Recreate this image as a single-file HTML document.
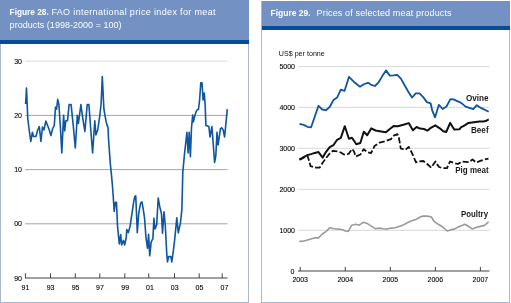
<!DOCTYPE html>
<html><head><meta charset="utf-8"><style>
html,body{margin:0;padding:0;background:#fff;width:511px;height:303px;overflow:hidden}
svg{display:block;font-family:"Liberation Sans", sans-serif;will-change:transform}
</style></head><body>
<svg width="511" height="303" viewBox="0 0 511 303" style="white-space:pre">
<rect x="0" y="0" width="249" height="303" fill="#fff"/>
<rect x="0.5" y="-1" width="248" height="303.5" fill="none" stroke="#a9b8cc" stroke-width="1"/>
<rect x="0" y="0" width="249" height="40" fill="#7391c2"/>
<rect x="0" y="40" width="249" height="4" fill="#0a4b95"/>
<rect x="261.5" y="1.5" width="248" height="301" fill="none" stroke="#a9b8cc" stroke-width="1"/>
<rect x="262" y="1" width="248" height="25" fill="#7391c2"/>
<rect x="262" y="26" width="248" height="4" fill="#0a4b95"/>
<line x1="25" y1="61.2" x2="227.5" y2="61.2" stroke="#dadada" stroke-width="1"/>
<text x="22" y="63.7" text-anchor="end" font-size="7" fill="#000" stroke="#000" stroke-width="0.1">30</text>
<line x1="25" y1="115.4" x2="227.5" y2="115.4" stroke="#a6a6a6" stroke-width="1"/>
<text x="22" y="117.9" text-anchor="end" font-size="7" fill="#000" stroke="#000" stroke-width="0.1">20</text>
<line x1="25" y1="169.6" x2="227.5" y2="169.6" stroke="#a6a6a6" stroke-width="1"/>
<text x="22" y="172.1" text-anchor="end" font-size="7" fill="#000" stroke="#000" stroke-width="0.1">10</text>
<line x1="25" y1="223.8" x2="227.5" y2="223.8" stroke="#a6a6a6" stroke-width="1"/>
<text x="22" y="226.3" text-anchor="end" font-size="7" fill="#000" stroke="#000" stroke-width="0.1">00</text>
<line x1="25" y1="278" x2="227.5" y2="278" stroke="#808080" stroke-width="1.3"/>
<text x="22" y="280.7" text-anchor="end" font-size="7" fill="#000" stroke="#000" stroke-width="0.1">90</text>
<line x1="25.4" y1="273.3" x2="25.4" y2="278" stroke="#333" stroke-width="0.9"/>
<text x="25.4" y="290" text-anchor="middle" font-size="7" fill="#000" stroke="#000" stroke-width="0.1">91</text>
<line x1="50.5" y1="273.3" x2="50.5" y2="278" stroke="#333" stroke-width="0.9"/>
<text x="50.6" y="290" text-anchor="middle" font-size="7" fill="#000" stroke="#000" stroke-width="0.1">93</text>
<line x1="75.3" y1="273.3" x2="75.3" y2="278" stroke="#333" stroke-width="0.9"/>
<text x="75.6" y="290" text-anchor="middle" font-size="7" fill="#000" stroke="#000" stroke-width="0.1">95</text>
<line x1="99.8" y1="273.3" x2="99.8" y2="278" stroke="#333" stroke-width="0.9"/>
<text x="100.0" y="290" text-anchor="middle" font-size="7" fill="#000" stroke="#000" stroke-width="0.1">97</text>
<line x1="124.8" y1="273.3" x2="124.8" y2="278" stroke="#333" stroke-width="0.9"/>
<text x="125.2" y="290" text-anchor="middle" font-size="7" fill="#000" stroke="#000" stroke-width="0.1">99</text>
<line x1="148.7" y1="273.3" x2="148.7" y2="278" stroke="#333" stroke-width="0.9"/>
<text x="149.9" y="290" text-anchor="middle" font-size="7" fill="#000" stroke="#000" stroke-width="0.1">01</text>
<line x1="174.5" y1="273.3" x2="174.5" y2="278" stroke="#333" stroke-width="0.9"/>
<text x="174.7" y="290" text-anchor="middle" font-size="7" fill="#000" stroke="#000" stroke-width="0.1">03</text>
<line x1="199.2" y1="273.3" x2="199.2" y2="278" stroke="#333" stroke-width="0.9"/>
<text x="199.5" y="290" text-anchor="middle" font-size="7" fill="#000" stroke="#000" stroke-width="0.1">05</text>
<line x1="222.2" y1="273.3" x2="222.2" y2="278" stroke="#333" stroke-width="0.9"/>
<text x="224.5" y="290" text-anchor="middle" font-size="7" fill="#000" stroke="#000" stroke-width="0.1">07</text>
<polyline points="25.6,104 26.5,88 27.8,119 29.2,130 30.8,141.4 32.4,132.3 33.5,136.5 35.9,136.5 37.7,130 39.3,126.6 40.9,141.4 42.5,127 43.9,130 45.9,121 47.6,125.5 49.3,130 50.9,135.6 52.7,128.5 54.3,125.4 55.5,107 56.6,109.2 57.7,99.3 58.9,104.7 60.4,127.2 61.8,153 63.6,115.4 64.7,131 65.8,120.8 67.5,120.8 69.1,104.6 71.1,104.6 73,123 75.3,148 77.3,115.2 78.4,123.5 80.9,104.6 82.5,116.5 84.9,131.5 87.2,104.6 88.9,104.6 90.9,131.5 92.6,153 94.8,120.8 95.9,135 97.7,130 99.5,118 101.1,104 102.3,76.6 103.9,109 104.9,115 106.2,122 107.3,126 108,127 108.6,140 110.3,163.6 111.2,172.2 112.4,185.1 113.2,196 114.2,211.5 115.4,202.3 116.5,202.3 117.5,226 119.3,243.9 120.7,234.6 121.6,245 123.5,240.4 124.6,245 126.2,238 126.8,229.6 128.4,232.6 130.2,225.6 132.8,207.8 133.7,201.9 134.7,196.9 135.7,195.9 136.1,203.9 137.3,232.6 138.7,213.8 139.7,207.8 140.7,202.9 142,201.9 143.2,208.8 144.6,218.7 146,237.6 147.5,248.3 148.6,234.3 149.7,255.8 151.2,241.8 152.9,238.6 153.9,218.2 155,229 156.7,224.7 158.2,198 159.7,206.4 161.5,214 162.5,233.3 164,211.8 165.3,225.8 166.8,254.7 167.5,261.9 168.6,256.5 170.8,256.5 171.8,261.9 173.3,251.1 174.6,240.4 176.8,217.9 178.3,232.9 180.4,223.2 181.9,209.3 182.8,172 184.6,153 186.9,132.3 188.1,153 189.2,132.3 190.4,156.6 191.5,127.7 192.7,115 193.4,121.9 195,115 196.6,110.4 198.5,109.2 199.6,100 200.8,82.7 202,82.7 203.1,100 204.3,93.1 205.2,106 205.9,125.4 208.9,126.6 210,137 211.9,126.6 212.8,138.1 214.6,162.4 215.8,156 217,132.3 218.1,145 220.4,128.9 221.6,127.7 223.2,130 224.6,137 227.3,109.2" fill="none" stroke="#0e55a2" stroke-width="1.6" stroke-linejoin="round"/>
<line x1="298" y1="66.6" x2="489.5" y2="66.6" stroke="#d4d4d4" stroke-width="0.9"/>
<text x="295" y="69.3" text-anchor="end" font-size="7" fill="#000" stroke="#000" stroke-width="0.1">5000</text>
<line x1="298" y1="107.4" x2="489.5" y2="107.4" stroke="#d4d4d4" stroke-width="0.9"/>
<text x="295" y="110.10000000000001" text-anchor="end" font-size="7" fill="#000" stroke="#000" stroke-width="0.1">4000</text>
<line x1="298" y1="148.3" x2="489.5" y2="148.3" stroke="#d4d4d4" stroke-width="0.9"/>
<text x="295" y="151.0" text-anchor="end" font-size="7" fill="#000" stroke="#000" stroke-width="0.1">3000</text>
<line x1="298" y1="189.3" x2="489.5" y2="189.3" stroke="#d4d4d4" stroke-width="0.9"/>
<text x="295" y="192.0" text-anchor="end" font-size="7" fill="#000" stroke="#000" stroke-width="0.1">2000</text>
<line x1="298" y1="230.3" x2="489.5" y2="230.3" stroke="#d4d4d4" stroke-width="0.9"/>
<text x="295" y="233.0" text-anchor="end" font-size="7" fill="#000" stroke="#000" stroke-width="0.1">1000</text>
<line x1="298" y1="271" x2="489.5" y2="271" stroke="#808080" stroke-width="1.3"/>
<text x="294.5" y="274.2" text-anchor="end" font-size="7" fill="#000" stroke="#000" stroke-width="0.1">0</text>
<line x1="300.2" y1="266.9" x2="300.2" y2="271" stroke="#333" stroke-width="0.9"/>
<text x="300.2" y="282" text-anchor="middle" font-size="7" fill="#000" stroke="#000" stroke-width="0.1">2003</text>
<line x1="345.25" y1="266.9" x2="345.25" y2="271" stroke="#333" stroke-width="0.9"/>
<text x="345.25" y="282" text-anchor="middle" font-size="7" fill="#000" stroke="#000" stroke-width="0.1">2004</text>
<line x1="390.29999999999995" y1="266.9" x2="390.29999999999995" y2="271" stroke="#333" stroke-width="0.9"/>
<text x="390.29999999999995" y="282" text-anchor="middle" font-size="7" fill="#000" stroke="#000" stroke-width="0.1">2005</text>
<line x1="435.34999999999997" y1="266.9" x2="435.34999999999997" y2="271" stroke="#333" stroke-width="0.9"/>
<text x="435.34999999999997" y="282" text-anchor="middle" font-size="7" fill="#000" stroke="#000" stroke-width="0.1">2006</text>
<line x1="480.4" y1="266.9" x2="480.4" y2="271" stroke="#333" stroke-width="0.9"/>
<text x="480.4" y="282" text-anchor="middle" font-size="7" fill="#000" stroke="#000" stroke-width="0.1">2007</text>
<text x="278.8" y="55.8" font-size="7.5" fill="#111" textLength="46" lengthAdjust="spacingAndGlyphs">US$ per tonne</text>
<polyline points="299.3,241.4 302.8,241.2 306.7,240.2 310.7,238.9 314.6,237.9 318.5,237.9 322.4,234.0 325.9,231.6 329.8,227.7 334.1,228.7 338.1,229.1 342.0,229.5 345.5,231.0 348.2,231.4 351.8,225.2 355.7,224.2 359.2,225.2 363.5,222.2 367.4,223.6 371.3,226.1 375.2,228.7 379.1,228.1 383.1,228.7 387.0,229.1 390.9,228.1 394.1,228.0 398.2,226.8 402.3,225.4 406.4,223.3 410.5,221.3 415.7,219.6 419.8,217.2 422.9,216.1 427.0,216.1 431.1,216.7 434.1,221.3 438.3,224.3 442.4,226.8 445.4,229.5 447.1,230.9 450.6,229.9 454.7,228.9 458.8,226.8 461.9,225.4 465.0,224.3 469.1,226.8 472.1,228.9 476.2,227.4 480.3,226.4 484.5,225.4 488.6,221.9" fill="none" stroke="#9a9a9a" stroke-width="1.6" stroke-linejoin="round"/>
<polyline points="299.5,159.6 303.7,157.6 307.4,155.6 308.8,160 310.6,166.2 316,167.6 319.7,167.6 323,162.2 326.5,157.5 329.5,153.8 333,150.8 337.5,151.5 340.8,152.5 344,154.5 348.6,153.9 352.1,149 353.9,151.2 355.8,156.5 360.4,154.5 363.7,149.2 367,151.9 371,153.2 374.6,145.9 379.6,142.6 384.9,141.3 390.9,139.2 394.2,135.3 397.5,134.2 398.9,137.9 400.8,148.5 405.4,149.8 408.7,146.9 411.4,151.8 416,162.3 419.3,161.4 423.3,161 427.2,164 431.2,167.6 435.5,161.5 437.3,164.6 439.1,167 442.1,168 447,168.2 450,161.5 453.1,162.7 457.9,164 462.2,161.5 468.8,162.1 472.5,159.5 476.1,162.4 481,160.7 484.6,159.5 488.5,158.7" fill="none" stroke="#111" stroke-width="1.8" stroke-dasharray="6,2.2" stroke-linejoin="round"/>
<polyline points="299.5,159.6 303.7,157.1 307.4,155.1 311.1,154.1 314.8,152.9 318.5,152.1 322.7,157.6 325.9,152.1 329.7,147.2 333.4,145.2 337.1,139.8 340.8,137.8 344.8,126.2 348.9,138.8 352,137.8 356.3,144.2 360.3,143 363.8,131.7 367.2,135.3 371.2,128.4 375.6,130.5 381.1,131.5 385.9,132.3 389.8,129 393.9,125.9 397.8,126.3 403.4,124.8 408.7,123.1 412.9,130.3 416.6,127 420,128.6 424,129 427.4,130.6 430.9,127.8 435.3,125.3 439.8,128.3 443.3,131.3 446.2,132 450.2,122.9 454.2,129.6 459.6,129.3 460.9,127.3 464.7,125.3 468.4,122.9 472.1,122.4 475.8,121.9 479.5,121.6 483.2,121.6 485.7,121.1 488.7,119.4" fill="none" stroke="#111" stroke-width="2" stroke-linejoin="round"/>
<polyline points="299.5,123.9 303.7,124.9 307.4,126.8 311.1,127.3 318.5,105.8 322.2,109.5 325.9,110.2 329.7,107 333.4,100.1 337.1,97.6 340.8,89.7 344.5,90.9 349,76.8 354.4,82.3 359.9,86.7 364.3,84 368,82.8 371.2,84.8 374.9,86 378.6,82.3 382.3,76.1 386,70.4 389.8,75.6 393.5,75.3 397.2,74.9 400.9,78.6 404.6,85.2 408.3,91.7 412,97.6 415.7,93.4 419.5,93.4 423.2,97.1 426.9,102.1 430.6,103.3 432.3,110.7 435,117.4 438.9,104.8 442.7,109 446.5,106.5 450.4,99.2 453.5,99.4 456.7,100.9 461.2,102.9 465.6,106.6 473.3,109.2 476.8,105.2 480.9,107.9 488.7,111.8" fill="none" stroke="#0e55a2" stroke-width="1.8" stroke-linejoin="round"/>
<text x="466" y="100.9" font-size="8.7" font-weight="bold" fill="#1a1a1a" textLength="22.6" lengthAdjust="spacingAndGlyphs">Ovine</text>
<text x="471" y="132.9" font-size="8.6" font-weight="bold" fill="#1a1a1a" textLength="17.6" lengthAdjust="spacingAndGlyphs">Beef</text>
<text x="455.3" y="173" font-size="8.6" font-weight="bold" fill="#1a1a1a" textLength="33.3" lengthAdjust="spacingAndGlyphs">Pig meat</text>
<text x="461" y="217" font-size="8.6" font-weight="bold" fill="#1a1a1a" textLength="27" lengthAdjust="spacingAndGlyphs">Poultry</text>
<text x="9.6" y="15.3" font-size="8.7" font-weight="bold" fill="#fff" textLength="39.2" lengthAdjust="spacingAndGlyphs">Figure 28.</text>
<text x="51.4" y="15.3" font-size="9" fill="#fff" textLength="164.2" lengthAdjust="spacing">FAO international price index for meat</text>
<text x="9.6" y="27.9" font-size="9" fill="#fff" textLength="112" lengthAdjust="spacing">products (1998-2000 = 100)</text>
<text x="270.6" y="15.8" font-size="8.7" font-weight="bold" fill="#fff" textLength="40" lengthAdjust="spacingAndGlyphs">Figure 29.</text>
<text x="316.6" y="15.8" font-size="9" fill="#fff" textLength="135" lengthAdjust="spacing">Prices of selected meat products</text>
</svg>
</body></html>
